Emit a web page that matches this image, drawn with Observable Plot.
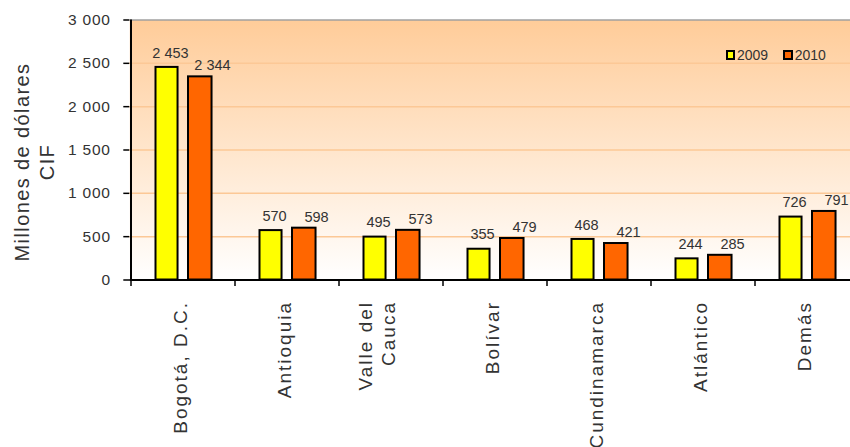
<!DOCTYPE html>
<html><head><meta charset="utf-8">
<script src="https://cdn.jsdelivr.net/npm/d3@7"></script>
<script src="https://cdn.jsdelivr.net/npm/@observablehq/plot@0.6"></script>
<style>
html,body{margin:0;padding:0;background:#fff;overflow:hidden}
#wrap{position:relative;width:850px;height:447px;font-family:"Liberation Sans",Arial,sans-serif}
#legend{position:absolute;left:725.5px;top:47px;display:flex;align-items:center;font-size:14px;color:#333;line-height:16px}
.sw{width:9.5px;height:9.5px;box-sizing:border-box;border:2px solid #000;display:inline-block;margin-right:2px}
.lt{margin-right:15px}
</style></head>
<body><div id="wrap"><div id="legend"></div></div>
<script>
const categories = ["Bogotá, D.C.", "Antioquia", "Valle del\nCauca", "Bolívar", "Cundinamarca", "Atlántico", "Demás"];
const values2009 = [2453, 570, 495, 355, 468, 244, 726];
const values2010 = [2344, 598, 573, 479, 421, 285, 791];
const seriesNames = ["2009", "2010"];
const seriesColors = ["#ffff00", "#ff6600"];
const yTicks = [0, 500, 1000, 1500, 2000, 2500, 3000];
const gridValues = [500, 1000, 1500, 2000, 2500];
const yTitle = "Millones de dólares\nCIF";

const fmt = d => d3.format(",")(d).replace(/,/g, " ");
const rows2009 = categories.map((c, i) => ({category: c, value: values2009[i]}));
const rows2010 = categories.map((c, i) => ({category: c, value: values2010[i]}));

const xRange = [129.3, 860.5];
const bw = (xRange[1] - xRange[0]) / categories.length;
const font = '"Liberation Sans", Arial, sans-serif';

const plot = Plot.plot({
  width: 850, height: 447,
  marginLeft: 129.3, marginRight: 0, marginTop: 19.5, marginBottom: 167.5,
  style: {fontFamily: font, fontSize: "15px", color: "#333", background: "transparent"},
  x: {domain: categories, range: xRange, padding: 0, axis: null},
  y: {domain: [0, 3000], axis: null},
  marks: [
    Plot.frame({fill: "url(#bgGrad)", stroke: "none"}),
    Plot.ruleY(gridValues, {stroke: "#fcc896", strokeWidth: 1.5}),
    Plot.ruleY([3000], {stroke: "#a0a0a0", strokeWidth: 1.5}),
    Plot.barY(rows2009, {x: "category", y: "value", fill: seriesColors[0], stroke: "#000", strokeWidth: 2, insetLeft: 24.5, insetRight: bw - 47}),
    Plot.barY(rows2010, {x: "category", y: "value", fill: seriesColors[1], stroke: "#000", strokeWidth: 2, insetLeft: 57, insetRight: bw - 81}),
    Plot.text(rows2009, {x: "category", y: "value", text: d => fmt(d.value), dx: -13, dy: -14.5, fontSize: 14.5, fill: "#333"}),
    Plot.text(rows2010, {x: "category", y: "value", text: d => fmt(d.value), dx: 29, dy: -11, fontSize: 14.5, fill: "#333"}),
    Plot.ruleY([0], {stroke: "#000", strokeWidth: 2}),
    Plot.axisY({ticks: yTicks, tickFormat: fmt, tickSize: 6, tickPadding: 13, fontSize: 15.5, stroke: "#000", strokeWidth: 1.5, label: null}),
    Plot.text(categories, {x: d => d, frameAnchor: "bottom", rotate: -90, textAnchor: "end", dy: 21, dx: 3, fontSize: 19, lineHeight: 1.2, fill: "#333"}),
    Plot.text([yTitle], {frameAnchor: "left", rotate: -90, textAnchor: "middle", dx: -96, dy: 12, fontSize: 20, lineHeight: 1.22, fill: "#333"})
  ]
});

const svg = d3.select(plot);
const defs = svg.insert("defs", ":first-child");
const grad = defs.append("linearGradient").attr("id", "bgGrad").attr("x1", 0).attr("y1", 0).attr("x2", 0).attr("y2", 1);
grad.append("stop").attr("offset", 0).attr("stop-color", "#ffcc99");
grad.append("stop").attr("offset", 1).attr("stop-color", "#ffffff");

// text marks in order: value labels 2009, value labels 2010, category labels, y title
const textGroups = svg.selectAll('g[aria-label="text"]').nodes();
if (textGroups[2]) d3.select(textGroups[2]).selectAll("text").style("letter-spacing", "2px");
if (textGroups[3]) d3.select(textGroups[3]).selectAll("text").style("letter-spacing", "1.4px");
svg.selectAll('g[aria-label="y-axis tick label"] text').style("letter-spacing", "0.8px");

// axis line and category boundary ticks from the plot's scales
const xs = plot.scale("x"), ys = plot.scale("y");
const y0 = ys.apply(0), yTop = ys.apply(3000);
const axisG = svg.append("g").attr("stroke", "#000");
axisG.append("line").attr("x1", xs.apply(categories[0])).attr("x2", xs.apply(categories[0]))
  .attr("y1", yTop).attr("y2", y0).attr("stroke-width", 2);
categories.forEach(c => {
  const x = xs.apply(c);
  axisG.append("line").attr("x1", x).attr("x2", x).attr("y1", y0).attr("y2", y0 + 6.5).attr("stroke-width", 1.5);
});

document.getElementById("wrap").appendChild(plot);
const legend = d3.select("#legend");
seriesNames.forEach((s, i) => {
  legend.append("span").attr("class", "sw").style("background", seriesColors[i]);
  legend.append("span").attr("class", "lt").text(s);
});
</script>
</body></html>
